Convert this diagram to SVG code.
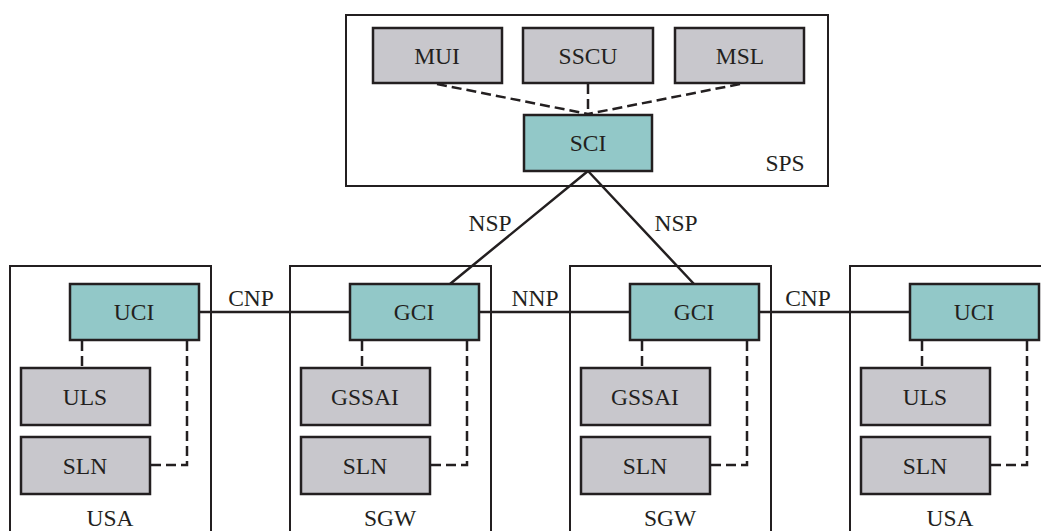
<svg xmlns="http://www.w3.org/2000/svg" width="1041" height="531" viewBox="0 0 1041 531">
<style>
.cont{fill:#fff;stroke:#231f20;stroke-width:2}
.g{fill:#c8c7cc;stroke:#231f20;stroke-width:2.5}
.t{fill:#92c8c8;stroke:#231f20;stroke-width:2.5}
text{font-family:"Liberation Serif","Times New Roman",serif;font-size:23.5px;fill:#231f20;text-anchor:middle}
.s{stroke:#231f20;stroke-width:2.5;fill:none}
.d{stroke:#231f20;stroke-width:2.5;fill:none;stroke-dasharray:10,5}
</style>
<rect width="1041" height="531" fill="#fff"/>
<g id="SPS"><rect class="cont" x="346" y="15" width="482" height="171"/><text x="785" y="171">SPS</text></g>
<g id="USA1"><rect class="cont" x="10" y="266" width="201" height="275"/><text x="110" y="526">USA</text></g>
<g id="SGW1"><rect class="cont" x="290" y="266" width="201" height="275"/><text x="390" y="526">SGW</text></g>
<g id="SGW2"><rect class="cont" x="570" y="266" width="201" height="275"/><text x="670" y="526">SGW</text></g>
<g id="USA2"><rect class="cont" x="850" y="266" width="201" height="275"/><text x="950" y="526">USA</text></g>
<g id="connectors">
<path class="d" d="M437 84 L588 114 M588 84 L588 114 M740 84 L588 114"/>
<path class="s" d="M588 171 L450 284 M588 171 L694 284"/>
<path class="s" d="M200 312 L350 312 M479 312 L630 312 M759 312 L910 312"/>
<path class="d" d="M82 341 V368 M187 341 V465 H150"/>
<path class="d" d="M362 341 V368 M467 341 V465 H430"/>
<path class="d" d="M642 341 V368 M747 341 V465 H710"/>
<path class="d" d="M922 341 V368 M1027 341 V465 H990"/>
</g>
<text x="490" y="231">NSP</text>
<text x="676" y="231">NSP</text>
<text x="251" y="306">CNP</text>
<text x="535" y="306">NNP</text>
<text x="808" y="306">CNP</text>
<g id="MUI"><rect class="g" x="373" y="28" width="129" height="55"/><text x="437" y="64">MUI</text></g>
<g id="SSCU"><rect class="g" x="523" y="28" width="130" height="55"/><text x="588" y="64">SSCU</text></g>
<g id="MSL"><rect class="g" x="675" y="28" width="129" height="55"/><text x="740" y="64">MSL</text></g>
<g id="SCI"><rect class="t" x="524" y="115" width="128" height="56"/><text x="588" y="151">SCI</text></g>
<g id="UCI1"><rect class="t" x="70" y="284" width="129" height="56"/><text x="134" y="320">UCI</text></g>
<g id="ULS1"><rect class="g" x="21" y="368" width="129" height="57"/><text x="85" y="405">ULS</text></g>
<g id="SLN1"><rect class="g" x="21" y="437" width="129" height="57"/><text x="85" y="474">SLN</text></g>
<g id="GCI1"><rect class="t" x="350" y="284" width="129" height="56"/><text x="414" y="320">GCI</text></g>
<g id="GSSAI1"><rect class="g" x="301" y="368" width="129" height="57"/><text x="365" y="405">GSSAI</text></g>
<g id="SLN2"><rect class="g" x="301" y="437" width="129" height="57"/><text x="365" y="474">SLN</text></g>
<g id="GCI2"><rect class="t" x="630" y="284" width="129" height="56"/><text x="694" y="320">GCI</text></g>
<g id="GSSAI2"><rect class="g" x="581" y="368" width="129" height="57"/><text x="645" y="405">GSSAI</text></g>
<g id="SLN3"><rect class="g" x="581" y="437" width="129" height="57"/><text x="645" y="474">SLN</text></g>
<g id="UCI2"><rect class="t" x="910" y="284" width="129" height="56"/><text x="974" y="320">UCI</text></g>
<g id="ULS2"><rect class="g" x="861" y="368" width="129" height="57"/><text x="925" y="405">ULS</text></g>
<g id="SLN4"><rect class="g" x="861" y="437" width="129" height="57"/><text x="925" y="474">SLN</text></g>
</svg>
